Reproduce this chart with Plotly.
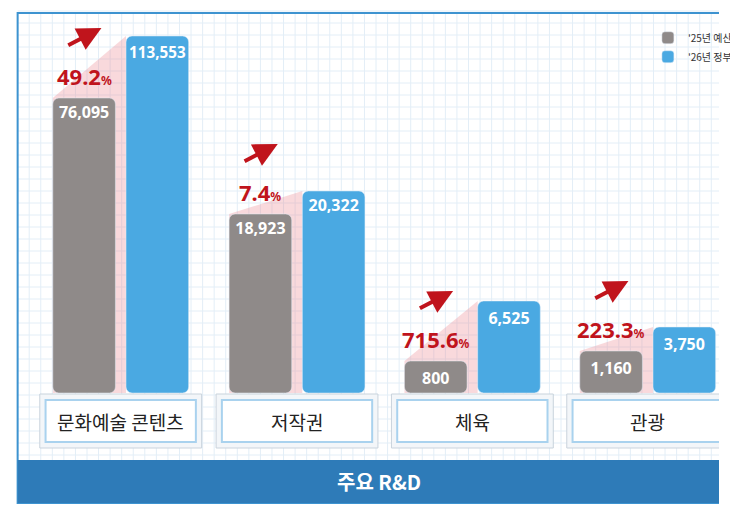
import plotly.graph_objects as go

categories = ["문화예술 콘텐츠", "저작권", "체육", "관광"]
budget_25 = [76095, 18923, 800, 1160]
budget_26 = [113553, 20322, 6525, 3750]
growth = ["49.2", "7.4", "715.6", "223.3"]
# bar heights as drawn (not to scale) in pixels
height_25 = [295, 179, 32, 42]
height_26 = [357, 202, 92, 66]

W, H = 738, 508
base = H - 385
centers = [117, 300, 482, 664]
off = 38
bw = 65

fig = go.Figure()
gray_x = [c - off for c in centers]
blue_x = [c + off for c in centers]

fig.add_trace(go.Bar(x=gray_x, y=height_25, base=base, width=bw, name="'25년 예산",
                     marker=dict(color="#8f8a89"),
                     text=[f"<b>{v:,}</b>" for v in budget_25], textposition="inside",
                     insidetextanchor="end", textangle=0,
                     textfont=dict(color="white", size=16, family="Noto Sans")))
fig.add_trace(go.Bar(x=blue_x, y=height_26, base=base, width=bw, name="'26년 정부안",
                     marker=dict(color="#4aa9e2"),
                     text=[f"<b>{v:,}</b>" for v in budget_26], textposition="inside",
                     insidetextanchor="end", textangle=0,
                     textfont=dict(color="white", size=16, family="Noto Sans")))

shapes = []
# grid background
for gx in range(10, W, 12):
    shapes.append(dict(type="line", x0=gx, x1=gx, y0=H - 495, y1=H - 5, line=dict(color="#e3eef7", width=1), layer="below"))
for gy in range(13, H, 12):
    shapes.append(dict(type="line", x0=10, x1=W, y0=gy, y1=gy, line=dict(color="#e3eef7", width=1), layer="below"))
shapes.append(dict(type="rect", x0=10, x1=W + 5, y0=H - 495, y1=H - 5, line=dict(color="#3d93d0", width=2), layer="below"))
# pink wedge between bars (behind bars)
for gx, bx, h25, h26 in zip(gray_x, blue_x, height_25, height_26):
    x0, x1 = gx - bw / 2, bx - bw / 2
    shapes.append(dict(type="path", layer="below", line=dict(width=0), fillcolor="rgba(235,130,140,0.3)",
                       path=f"M {x0},{base + h25} L {x1},{base + h26} L {x1},{base} L {x0},{base} Z"))
# bottom band
shapes.append(dict(type="rect", x0=10, x1=W + 5, y0=H - 495, y1=H - 452, fillcolor="#2e7bb8", line=dict(width=0)))
# category boxes
for c in centers:
    shapes.append(dict(type="rect", x0=c - 84, x1=c + 84, y0=H - 440, y1=H - 386, fillcolor="#f3f6f9", line=dict(color="#c9d3dc", width=1)))
    shapes.append(dict(type="rect", x0=c - 78, x1=c + 78, y0=H - 434, y1=H - 392, fillcolor="white", line=dict(color="#a9d2ee", width=2)))

ann = []
for c, cat in zip(centers, categories):
    ann.append(dict(x=c, y=H - 413, text=cat, showarrow=False, font=dict(size=19, color="#222", family="Noto Sans CJK KR")))
ann.append(dict(x=385, y=H - 473, text="<b>주요 R&D</b>", showarrow=False, font=dict(size=20, color="white", family="Noto Sans CJK KR")))
for gx, h25, h26, g in zip(gray_x, height_25, height_26, growth):
    ty = base + h25 + 22
    ann.append(dict(x=gx, y=ty, text=f"<b>{g}<span style='font-size:12px'>%</span></b>", showarrow=False,
                    font=dict(size=22, color="#c0141c", family="Noto Sans")))
    ann.append(dict(x=gx + 18, y=ty + 48, ax=gx - 18, ay=ty + 30, xref="x", yref="y", axref="x", ayref="y",
                    text="", showarrow=True, arrowhead=2, arrowsize=1.2, arrowwidth=4, arrowcolor="#c0141c"))

fig.update_layout(
    width=W, height=H, margin=dict(l=0, r=0, t=0, b=0),
    paper_bgcolor="white", plot_bgcolor="white",
    barcornerradius=6, shapes=shapes, annotations=ann,
    xaxis=dict(range=[0, W], visible=False, fixedrange=True),
    yaxis=dict(range=[0, H], visible=False, fixedrange=True),
    legend=dict(x=0.9, y=0.97, xanchor="left", yanchor="top", bgcolor="rgba(0,0,0,0)",
                font=dict(size=10, family="Noto Sans CJK KR", color="#333")),
)
fig.write_html("out.html")
